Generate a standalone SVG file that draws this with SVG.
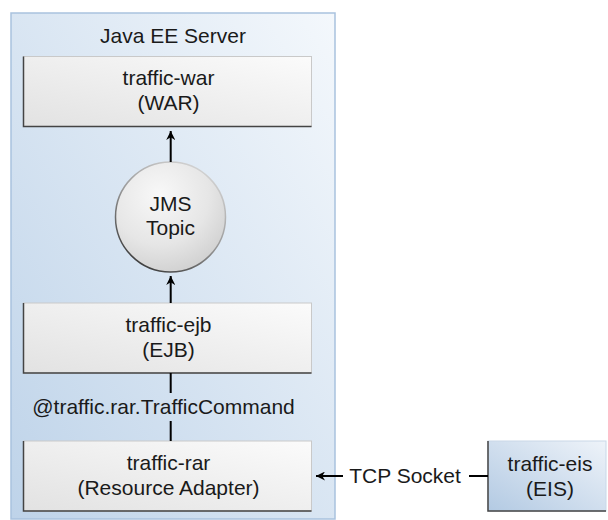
<svg xmlns="http://www.w3.org/2000/svg" width="608" height="520" viewBox="0 0 608 520">
<defs>
<linearGradient id="gCont" x1="1" y1="0" x2="0" y2="1">
<stop offset="0" stop-color="#f4f8fc"/>
<stop offset="1" stop-color="#bed3e9"/>
</linearGradient>
<linearGradient id="gBox" x1="1" y1="0" x2="0" y2="1">
<stop offset="0" stop-color="#fbfbfb"/>
<stop offset="1" stop-color="#e2e2e2"/>
</linearGradient>
<linearGradient id="gEis" x1="1" y1="0" x2="0" y2="1">
<stop offset="0" stop-color="#eef3f9"/>
<stop offset="1" stop-color="#b3cae3"/>
</linearGradient>
<radialGradient id="gCirc" cx="0.4" cy="0.3" r="0.75">
<stop offset="0" stop-color="#f8f8f8"/>
<stop offset="0.6" stop-color="#e6e6e6"/>
<stop offset="1" stop-color="#cfcfcf"/>
</radialGradient>
<linearGradient id="gCircStroke" x1="0.8" y1="0" x2="0.2" y2="1">
<stop offset="0" stop-color="#d8d8d8"/>
<stop offset="0.5" stop-color="#9a9a9a"/>
<stop offset="1" stop-color="#333"/>
</linearGradient>
<marker id="arr" viewBox="0 0 10 10" refX="10" refY="5" markerWidth="9" markerHeight="9" markerUnits="userSpaceOnUse" orient="auto">
<path d="M0,0 L10,5 L0,10 L3,5 z" fill="#000"/>
</marker>
</defs>
<style>
text { font-family: "Liberation Sans", Arial, Helvetica, sans-serif; font-size: 21px; fill: #1a1a1a; text-anchor: middle; }
.box { fill: url(#gBox); stroke: #c9c9c9; stroke-width: 1; }
.eis { fill: url(#gEis); stroke: #c9d8e8; stroke-width: 1; }
.shadow { fill: none; stroke: #444; stroke-width: 1.5; }
.conn { fill: none; stroke: #000; stroke-width: 2; }
</style>

<g id="java-ee-server">
<rect x="11" y="13" width="324" height="506" fill="url(#gCont)" stroke="#a9c2de" stroke-width="1.5"/>
<text x="173" y="43">Java EE Server</text>
</g>

<g id="traffic-war">
<rect class="box" x="23.5" y="56.5" width="288" height="70"/>
<polyline class="shadow" points="23.5,56.5 23.5,126.5 311.5,126.5"/>
<text x="168.5" y="85">traffic-war</text>
<text x="168.5" y="110">(WAR)</text>
</g>

<g id="jms-topic">
<circle cx="170.5" cy="217" r="55" fill="url(#gCirc)" stroke="url(#gCircStroke)" stroke-width="1.5"/>
<text x="170.5" y="211">JMS</text>
<text x="170.5" y="235">Topic</text>
</g>

<g id="traffic-ejb">
<rect class="box" x="23.5" y="303" width="288" height="70"/>
<polyline class="shadow" points="23.5,303 23.5,373 311.5,373"/>
<text x="168.5" y="332">traffic-ejb</text>
<text x="168.5" y="357">(EJB)</text>
</g>

<g id="traffic-rar">
<rect class="box" x="23.5" y="441" width="288" height="70"/>
<polyline class="shadow" points="23.5,441 23.5,511 311.5,511"/>
<text x="168.5" y="470">traffic-rar</text>
<text x="168.5" y="495">(Resource Adapter)</text>
</g>

<g id="traffic-eis">
<rect class="eis" x="488" y="441" width="118" height="70"/>
<polyline class="shadow" points="488,441 488,511 606,511"/>
<text x="550" y="471">traffic-eis</text>
<text x="550" y="496">(EIS)</text>
</g>

<g id="connectors">
<line class="conn" x1="170.7" y1="162" x2="170.7" y2="131" marker-end="url(#arr)"/>
<line class="conn" x1="170.7" y1="303" x2="170.7" y2="276" marker-end="url(#arr)"/>
<line class="conn" x1="170.7" y1="373" x2="170.7" y2="393"/>
<line class="conn" x1="170.7" y1="421" x2="170.7" y2="441"/>
<text x="163.5" y="414">@traffic.rar.TrafficCommand</text>
<line class="conn" x1="343" y1="476" x2="316" y2="476" marker-end="url(#arr)"/>
<line class="conn" x1="469" y1="476" x2="488" y2="476"/>
<text x="405" y="483">TCP Socket</text>
</g>
</svg>
